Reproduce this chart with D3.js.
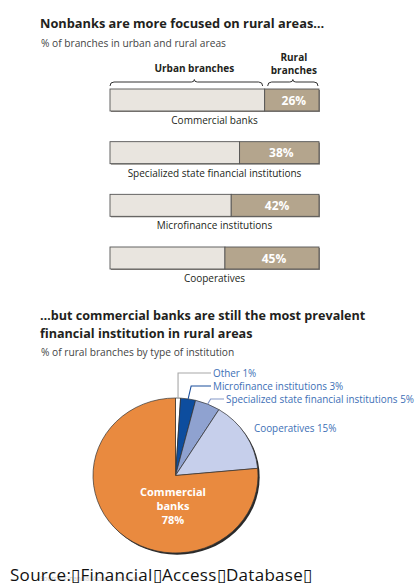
<!DOCTYPE html>
<html>
<head>
<meta charset="utf-8">
<script src="https://cdn.jsdelivr.net/npm/d3@7"></script>
<style>
  html, body { margin: 0; padding: 0; background: #fff; }
  svg { display: block; }
  text { font-family: "Open Sans", "Noto Sans", sans-serif; }
</style>
</head>
<body>
<svg id="chart" width="415" height="583"></svg>
<script>
// Share of branches located in rural areas, by institution type (%)
const barCategories = ["Commercial banks", "Specialized state financial institutions", "Microfinance institutions", "Cooperatives"];
const ruralShare = [26, 38, 42, 45];

// Rural branches by type of institution (%)
const pieCategories = ["Other", "Microfinance institutions", "Specialized state financial institutions", "Cooperatives", "Commercial banks"];
const pieValues = [1, 3, 5, 15, 78];

const svg = d3.select("#chart");

// ---------- Top panel: urban / rural split bars ----------
svg.append("text").attr("x", 40).attr("y", 28)
  .attr("font-size", 12.8).attr("font-weight", 700).attr("fill", "#231f20")
  .text("Nonbanks are more focused on rural areas…");
svg.append("text").attr("x", 41).attr("y", 47)
  .attr("font-size", 10.2).attr("fill", "#444")
  .text("% of branches in urban and rural areas");

const x = d3.scaleLinear().domain([0, 100]).range([110, 319]);
const y = d3.scaleLinear().domain([0, barCategories.length - 1]).range([89, 247]);
const barH = 22;

// bracket headers over the first bar
function brace(x1, x2, mid, yy) {
  return `M${x1},${yy + 4} Q${x1},${yy} ${x1 + 4},${yy} L${mid - 3},${yy} Q${mid},${yy} ${mid},${yy - 2.5}` +
         ` Q${mid},${yy} ${mid + 3},${yy} L${x2 - 4},${yy} Q${x2},${yy} ${x2},${yy + 4}`;
}
const split0 = x(100 - ruralShare[0]);
svg.append("path").attr("d", brace(x(0), split0 - 2, (x(0) + split0) / 2 + 7, 82))
  .attr("fill", "none").attr("stroke", "#333").attr("stroke-width", 1);
svg.append("path").attr("d", brace(split0 + 3, x(100) - 1, (split0 + x(100)) / 2 + 1, 82))
  .attr("fill", "none").attr("stroke", "#333").attr("stroke-width", 1);
svg.append("text").attr("x", (x(0) + split0) / 2 + 7).attr("y", 72)
  .attr("text-anchor", "middle").attr("font-size", 10).attr("font-weight", 700).attr("fill", "#231f20")
  .text("Urban branches");
const ruralHead = svg.append("text")
  .attr("text-anchor", "middle").attr("font-size", 10).attr("font-weight", 700).attr("fill", "#231f20");
["Rural", "branches"].forEach((t, i) => {
  ruralHead.append("tspan").attr("x", (split0 + x(100)) / 2 + 2).attr("y", 61 + i * 13).text(t);
});

const rows = svg.append("g").selectAll("g")
  .data(barCategories.map((c, i) => ({ cat: c, rural: ruralShare[i], i })))
  .join("g");

// soft shadow along the right and bottom edge
rows.append("rect")
  .attr("x", x(0) + 1).attr("y", d => y(d.i) + 1)
  .attr("width", x(100) - x(0)).attr("height", barH)
  .attr("fill", "#8a8680");
rows.append("rect")
  .attr("x", x(0)).attr("y", d => y(d.i))
  .attr("width", d => x(100 - d.rural) - x(0)).attr("height", barH)
  .attr("fill", "#e9e5df").attr("stroke", "#555").attr("stroke-width", 0.9);
rows.append("rect")
  .attr("x", d => x(100 - d.rural)).attr("y", d => y(d.i))
  .attr("width", d => x(100) - x(100 - d.rural)).attr("height", barH)
  .attr("fill", "#b4a58d").attr("stroke", "#555").attr("stroke-width", 0.9);
rows.append("text")
  .attr("x", d => (x(100 - d.rural) + x(100)) / 2 + 2).attr("y", d => y(d.i) + barH / 2 + 4.5)
  .attr("text-anchor", "middle").attr("font-size", 12).attr("font-weight", 700).attr("fill", "#fff")
  .text(d => d.rural + "%");
rows.append("text")
  .attr("x", (x(0) + x(100)) / 2).attr("y", d => y(d.i) + barH + 13)
  .attr("text-anchor", "middle").attr("font-size", 10).attr("fill", "#231f20")
  .text(d => d.cat);

// ---------- Bottom panel: pie of rural branches ----------
const title2 = svg.append("text")
  .attr("font-size", 12.6).attr("font-weight", 700).attr("fill", "#231f20");
["…but commercial banks are still the most prevalent", "financial institution in rural areas"]
  .forEach((t, i) => title2.append("tspan").attr("x", 40).attr("y", 320 + i * 17.5).text(t));
svg.append("text").attr("x", 41).attr("y", 356)
  .attr("font-size", 10.2).attr("fill", "#444")
  .text("% of rural branches by type of institution");

const cx = 175.5, cy = 475.5, rx = 82.5, ry = 77.5, R = 80;
const pieColors = d3.scaleOrdinal().domain(pieCategories)
  .range(["#ffffff", "#0d4d9e", "#8fa2d0", "#c6cfeb", "#e98a3f"]);
const pieData = d3.pie().sort(null).value(d => d.v)
  (pieCategories.map((c, i) => ({ cat: c, v: pieValues[i] })));
const arc = d3.arc().innerRadius(0).outerRadius(R);

const pieG = svg.append("g")
  .attr("transform", `translate(${cx},${cy}) scale(${rx / R},${ry / R})`);
pieG.append("circle").attr("cx", 1.6).attr("cy", 1.8).attr("r", R).attr("fill", "#2a2a2a");
pieG.selectAll("path").data(pieData).join("path")
  .attr("d", arc)
  .attr("fill", d => pieColors(d.data.cat))
  .attr("stroke", "#333").attr("stroke-width", 0.7);

// point on the rim at the middle of a slice
function rim(d) {
  const a = (d.startAngle + d.endAngle) / 2;
  return [cx + rx * Math.sin(a), cy - ry * Math.cos(a)];
}

const labelBlue = "#3d6fb6";
const callouts = [
  { idx: 0, ly: 373, lx: 211, tx: 213, bend: 0, line: "#a8a8a8" },
  { idx: 1, ly: 386, lx: 211, tx: 213, bend: 3, line: "#1b4f9c" },
  { idx: 2, ly: 399, lx: 224, tx: 226, bend: 3, line: "#8497c8" }
];
callouts.forEach(c => {
  const d = pieData[c.idx];
  const [px, py] = rim(d);
  const pts = c.bend === 0
    ? [[px, py], [px, c.ly], [c.lx, c.ly]]
    : [[px, py], [px + c.bend, c.ly], [c.lx, c.ly]];
  svg.append("path").attr("d", d3.line()(pts))
    .attr("fill", "none").attr("stroke", c.line).attr("stroke-width", 1.1);
  svg.append("text").attr("x", c.tx).attr("y", c.ly + 3.5)
    .attr("font-size", 9.9).attr("fill", labelBlue)
    .text(`${d.data.cat} ${d.data.v}%`);
});
svg.append("text").attr("x", 254).attr("y", 431.5)
  .attr("font-size", 9.9).attr("fill", labelBlue)
  .text(`${pieData[3].data.cat} ${pieData[3].data.v}%`);

const big = pieData[4];
const bigText = svg.append("text")
  .attr("text-anchor", "middle").attr("font-size", 11).attr("font-weight", 700).attr("fill", "#fff");
["Commercial", "banks", big.data.v + "%"].forEach((t, i) => {
  bigText.append("tspan").attr("x", 173).attr("y", 496 + i * 14).text(t);
});

// ---------- Source line ----------
svg.append("text").attr("x", 40).attr("y", 581)
  .attr("font-size", 6.5).attr("fill", "#d2d2d2")
  .text("Source: Financial Access database.");
svg.append("text").attr("x", 10).attr("y", 580.5)
  .attr("font-size", 17).attr("fill", "#111")
  .attr("letter-spacing", 0.3)
  .text("Source:\u25AFFinancial\u25AFAccess\u25AFDatabase\u25AF");
</script>
</body>
</html>
